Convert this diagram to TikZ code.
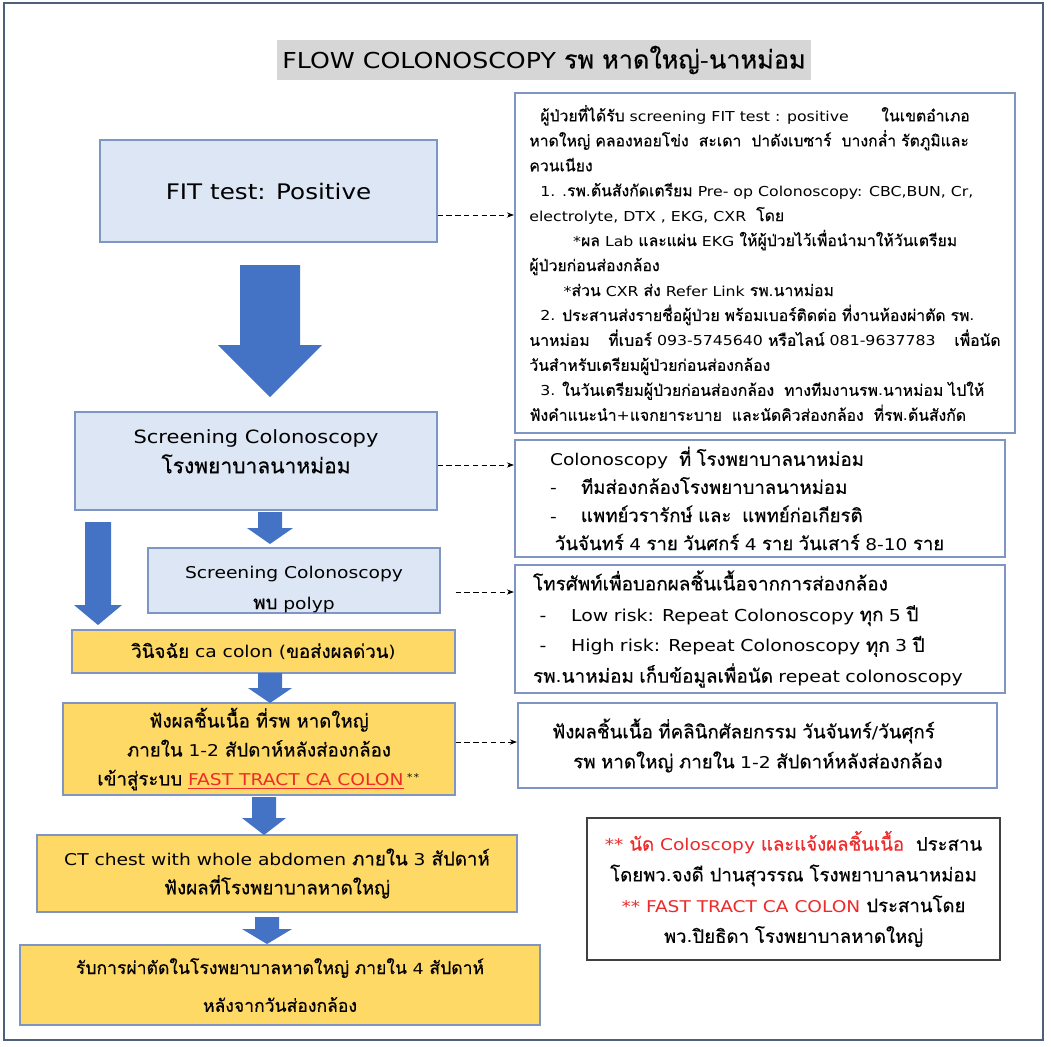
\documentclass[tikz,border=0pt]{standalone}
\usepackage{fontspec}
\setmainfont{DejaVu Sans}[FakeStretch=1.15]
\newfontfamily\thaifont{Loma}[Script=Thai, FakeBold=0.5, Scale=1.15]
% switch to the Thai face for Thai letters only
\XeTeXinterchartokenstate=1
\newXeTeXintercharclass\thaiclass
\count255="0E00
\loop \XeTeXcharclass\count255=\thaiclass
  \ifnum\count255<"0E7F \advance\count255 by 1 \repeat
\XeTeXinterchartoks 0 \thaiclass = {\thaifont}
\XeTeXinterchartoks 4095 \thaiclass = {\thaifont}
\XeTeXinterchartoks \thaiclass 0 = {\rmfamily}
\XeTeXinterchartoks \thaiclass 4095 = {\rmfamily}
\usetikzlibrary{arrows.meta}
\definecolor{boxline}{HTML}{7F96C4}
\definecolor{boxfill}{HTML}{DCE6F4}
\definecolor{yel}{HTML}{FFD966}
\definecolor{arrowblue}{HTML}{4472C4}
\definecolor{titlegray}{HTML}{D6D6D6}
\definecolor{notered}{HTML}{EE2A2A}
\definecolor{framecol}{HTML}{4F5E7A}
\newcommand{\bodysize}{\fontsize{9.25}{16.5}\selectfont}
\tikzset{
  bluebox/.style={draw=boxline, fill=boxfill, line width=0.8pt, align=center, inner sep=0pt},
  yelbox/.style={draw=boxline, fill=yel, line width=0.8pt, align=center, inner sep=0pt, font=\bodysize},
  infobox/.style={draw=boxline, fill=white, line width=1.3pt, align=left, inner sep=0pt},
  dasharrow/.style={densely dashed, thin, -{Stealth[length=4pt,width=3pt]}}
}
% block arrow: x centre, top, head base, tip, shaft half width, head half width
\newcommand{\blockarrow}[6]{%
  \fill[arrowblue] (#1-#5,#2) -- (#1+#5,#2) -- (#1+#5,#3) -- (#1+#6,#3) -- (#1,#4)
    -- (#1-#6,#3) -- (#1-#5,#3) -- cycle;}

\begin{document}
\begin{tikzpicture}[x=0.02cm,y=-0.02cm]
    \useasboundingbox (0,0) rectangle (1051,1046);
    \draw [framecol, line width=1.2pt] (4,3) rectangle (1043,1040);

    % title
    \node [fill=titlegray, minimum width=10.64cm, minimum height=0.8cm, font=\fontsize{12.5}{16}\selectfont] (title) at (544,60)
        {FLOW COLONOSCOPY รพ หาดใหญ่-นาหม่อม};

    % left column
    \node [bluebox, minimum width=6.74cm, minimum height=2.04cm, font=\fontsize{12.2}{15}\selectfont] (fit) at (268.5,191) {FIT test: Positive};
    \node [bluebox, minimum width=7.24cm, minimum height=1.96cm, font=\fontsize{10.4}{17}\selectfont] (scr) at (256,461)
        {Screening Colonoscopy\\ โรงพยาบาลนาหม่อม\\[-6pt]\mbox{}};
    \node [bluebox, minimum width=5.84cm, minimum height=1.3cm, font=\fontsize{9.25}{17.5}\selectfont] (polyp) at (294,580.5)
        {\rule{0pt}{17pt}Screening Colonoscopy\\ พบ polyp};
    \node [yelbox, minimum width=7.66cm, minimum height=0.86cm] (diag) at (263.5,651.5) {วินิจฉัย ca colon (ขอส่งผลด่วน)};
    \node [yelbox, minimum width=7.84cm, minimum height=1.84cm] (result) at (259,749)
        {ฟังผลชิ้นเนื้อ ที่รพ หาดใหญ่\\ ภายใน 1-2 สัปดาห์หลังส่องกล้อง\\
         เข้าสู่ระบบ \textcolor{notered}{\underline{FAST TRACT CA COLON}}\,$^{**}$};
    \node [yelbox, minimum width=9.6cm, minimum height=1.54cm] (ct) at (277,873.5)
        {CT chest with whole abdomen ภายใน 3 สัปดาห์\\ ฟังผลที่โรงพยาบาลหาดใหญ่};
    \node [yelbox, minimum width=10.4cm, minimum height=1.6cm, font=\fontsize{8.7}{21.5}\selectfont] (surg) at (280,985)
        {รับการผ่าตัดในโรงพยาบาลหาดใหญ่ ภายใน 4 สัปดาห์\\ หลังจากวันส่องกล้อง};

    % block arrows
    \blockarrow{270}{265}{345}{397}{30}{52}
    \blockarrow{270}{512}{528}{544}{12}{23}
    \blockarrow{98}{522}{605}{625}{13}{24}
    \blockarrow{270}{673}{688}{703}{12}{22}
    \blockarrow{264}{797}{818}{835}{12}{22}
    \blockarrow{267}{917}{929}{944}{12}{25}

    % right column
    \node [infobox, minimum width=10cm, minimum height=6.8cm, font=\fontsize{7.8}{14.2}\selectfont] (info1) at (765,263)
        {\hspace*{0.8em}ผู้ป่วยที่ได้รับ screening FIT test : positive \hspace{2em}ในเขตอำเภอ\\
         หาดใหญ่ คลองหอยโข่ง \ สะเดา \ ปาดังเบซาร์ \ บางกล่ำ รัตภูมิและ\\
         ควนเนียง\\
         \hspace*{0.8em}1. .รพ.ต้นสังกัดเตรียม Pre- op Colonoscopy: CBC,BUN, Cr,\\
         electrolyte, DTX , EKG, CXR \ โดย\\
         \hspace*{3.2em}*ผล Lab และแผ่น EKG ให้ผู้ป่วยไว้เพื่อนำมาให้วันเตรียม\\
         ผู้ป่วยก่อนส่องกล้อง\\
         \hspace*{2.5em}*ส่วน CXR ส่ง Refer Link รพ.นาหม่อม\\
         \hspace*{0.8em}2. ประสานส่งรายชื่อผู้ป่วย พร้อมเบอร์ติดต่อ ที่งานห้องผ่าตัด รพ.\\
         นาหม่อม \hspace{1em}ที่เบอร์ 093-5745640 หรือไลน์ 081-9637783 \hspace{1em}เพื่อนัด\\
         วันสำหรับเตรียมผู้ป่วยก่อนส่องกล้อง\\
         \hspace*{0.8em}3. ในวันเตรียมผู้ป่วยก่อนส่องกล้อง \ ทางทีมงานรพ.นาหม่อม ไปให้\\
         ฟังคำแนะนำ+แจกยาระบาย \ และนัดคิวส่องกล้อง \ ที่รพ.ต้นสังกัด};
    \node [infobox, minimum width=9.8cm, minimum height=2.34cm, text width=8.4cm, font=\fontsize{9.2}{16}\selectfont] (info2) at (760,498.5)
        {Colonoscopy \ ที่ โรงพยาบาลนาหม่อม\\
         -\hspace{1.5em}ทีมส่องกล้องโรงพยาบาลนาหม่อม\\
         -\hspace{1.5em}แพทย์วรารักษ์ และ \ แพทย์ก่อเกียรติ\\
         \hspace*{0.3em}วันจันทร์ 4 ราย วันศกร์ 4 ราย วันเสาร์ 8-10 ราย};
    \node [infobox, minimum width=9.8cm, minimum height=2.56cm, text width=9.08cm, font=\fontsize{9.35}{17.5}\selectfont] (info3) at (760,629)
        {โทรศัพท์เพื่อบอกผลชิ้นเนื้อจากการส่องกล้อง\\
         \hspace*{0.4em}-\hspace{1.5em}Low risk: Repeat Colonoscopy ทุก 5 ปี\\
         \hspace*{0.4em}-\hspace{1.5em}High risk: Repeat Colonoscopy ทุก 3 ปี\\
         รพ.นาหม่อม เก็บข้อมูลเพื่อนัด repeat colonoscopy};
    \node [infobox, minimum width=9.58cm, minimum height=1.7cm, text width=8.22cm, font=\fontsize{9.27}{17}\selectfont] (info4) at (757.5,745.5)
        {ฟังผลชิ้นเนื้อ ที่คลินิกศัลยกรรม วันจันทร์/วันศุกร์\\
         \hspace*{1.3em}รพ หาดใหญ่ ภายใน 1-2 สัปดาห์หลังส่องกล้อง};
    \node [infobox, draw=black!75, line width=1pt, align=center, minimum width=8.26cm, minimum height=2.84cm, font=\fontsize{9.2}{17.5}\selectfont] (note) at (793.5,889)
        {\textcolor{notered}{** นัด Coloscopy และแจ้งผลชิ้นเนื้อ} \ ประสาน\\
         โดยพว.จงดี ปานสุวรรณ โรงพยาบาลนาหม่อม\\
         \textcolor{notered}{** FAST TRACT CA COLON} ประสานโดย\\
         พว.ปิยธิดา โรงพยาบาลหาดใหญ่};

    % dashed links
    \coordinate (c1) at (0,215);
    \coordinate (c2) at (0,465);
    \coordinate (c3) at (0,592);
    \coordinate (c4) at (0,742);
    \draw [dasharrow] (fit.east |- c1) -- (info1.west |- c1);
    \draw [dasharrow] (scr.east |- c2) -- (info2.west |- c2);
    \draw [dasharrow, shorten <=0.3cm] (polyp.east |- c3) -- (info3.west |- c3);
    \draw [dasharrow] (result.east |- c4) -- (info4.west |- c4);
\end{tikzpicture}
\end{document}
